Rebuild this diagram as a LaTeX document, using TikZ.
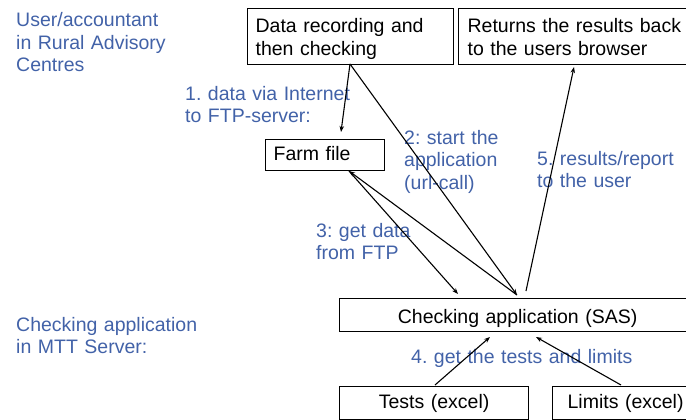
\documentclass[tikz,border=0pt]{standalone}
\usepackage{fontspec}
\setmainfont{Liberation Sans}
\usetikzlibrary{arrows.meta,calc}
\definecolor{labc}{RGB}{66,98,168}
\newcommand{\dfont}{\fontsize{19.5}{22.5}\selectfont\frenchspacing}
\begin{document}
\begin{tikzpicture}[x=1pt,y=-1pt,
  box/.style={draw=black, line width=1.2pt, rectangle, inner ysep=0pt, anchor=north west, font=\dfont, align=left},
  lab/.style={text=labc, font=\dfont, inner sep=0pt, anchor=base west, align=left},
  conn/.style={line width=1.1pt, -{Stealth[length=6pt,width=4.5pt]}}]
\useasboundingbox (0,0) rectangle (686,420);
\clip (0,0) rectangle (686,420);
% boxes
\node[box, minimum width=206pt, minimum height=56pt, text width=190pt, inner xsep=8pt, text height=24pt, text depth=32pt] (rec) at (247,8) {Data recording and\\then checking};
\node[box, minimum width=240pt, minimum height=56pt, text width=222pt, inner xsep=9pt, text height=24pt, text depth=32pt] (ret) at (458,8) {Returns the results back\\to the users browser};
\node[box, minimum width=119pt, minimum height=31pt, text width=103pt, inner xsep=8pt, text height=21pt, text depth=10pt] (farm) at (265,139) {Farm file};
\node[box, minimum width=356pt, minimum height=33pt, text width=340pt, inner xsep=8pt, text height=25pt, text depth=8pt, align=center] (chk) at (339,298) {Checking application (SAS)};
\node[box, minimum width=189pt, minimum height=33pt, text width=173pt, inner xsep=8pt, text height=22pt, text depth=11pt, align=center] (tests) at (339,386) {Tests (excel)};
\node[box, minimum width=146pt, minimum height=33pt, text width=136pt, inner xsep=5pt, text height=22pt, text depth=11pt, align=center] (lim) at (552,386) {Limits (excel)};
% labels
\node[lab, text width=200pt] (lu) at (16,27) {User/accountant\\in Rural Advisory\\Centres};
\node[lab, text width=220pt] (lm) at (16,331) {Checking application\\in MTT Server:};
\node[lab, text width=200pt] (l1) at (185,100) {1. data via Internet\\to FTP-server:};
\node[lab, text width=120pt] (l2) at (404,144) {2: start the\\application\\(url-call)};
\node[lab, text width=150pt] (l3) at (316,237) {3: get data\\from FTP};
\node[lab, text width=280pt] (l4) at (411,363) {4. get the tests and limits};
\node[lab, text width=160pt] (l5) at (537,165) {5. results/report\\to the user};
% connectors
\draw[conn] ($(rec.north west)+(103,56)$) -- ($(farm.north west)+(76,-7)$);
\draw[conn] ($(rec.north west)+(103,56)$) -- ($(chk.north west)+(178,-3)$);
\draw[conn] ($(farm.north west)+(84,32)$) -- ($(chk.north west)+(119,-4)$);
\draw[conn] ($(chk.north west)+(178,-3)$) -- ($(farm.north west)+(84,32)$);
\draw[conn] ($(chk.north west)+(187,-7)$) -- ($(ret.north west)+(116,59)$);
\draw[conn] ($(tests.north west)+(96,-1)$) -- ($(chk.north west)+(151,39)$);
\draw[conn] ($(lim.north west)+(69,-1)$) -- ($(chk.north west)+(197,39)$);
\end{tikzpicture}
\end{document}
